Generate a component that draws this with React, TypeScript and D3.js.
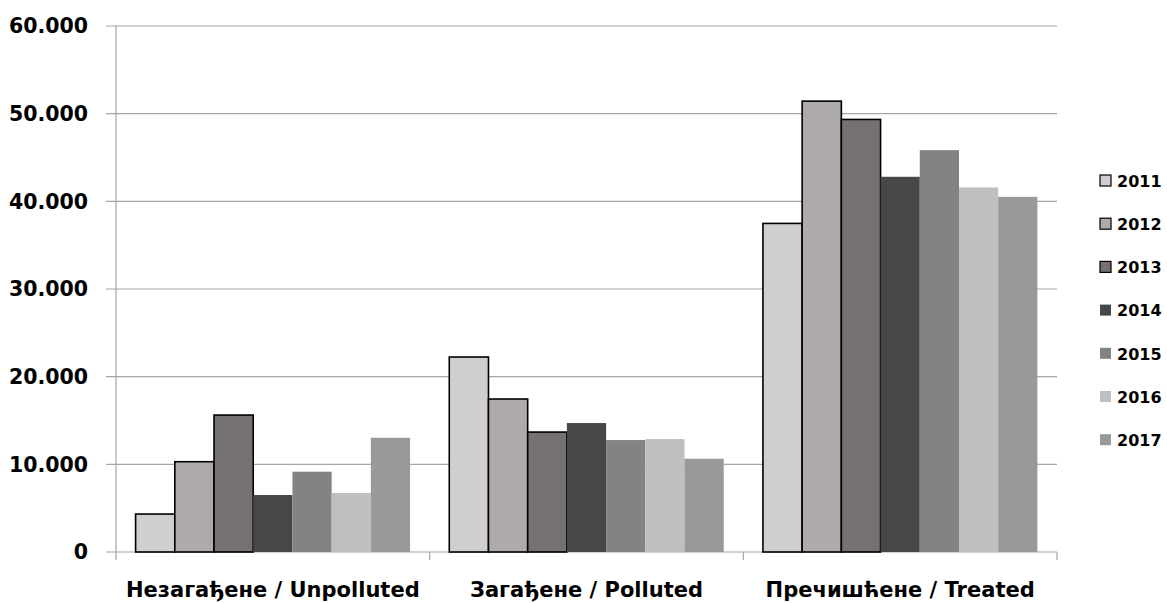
import React from "react";
import * as d3 from "d3";

const categories = ["Незагађене / Unpolluted", "Загађене / Polluted", "Пречишћене / Treated"];
const years = ["2011", "2012", "2013", "2014", "2015", "2016", "2017"];
const values2011 = [4330, 22240, 37480];
const values2012 = [10300, 17450, 51430];
const values2013 = [15620, 13680, 49340];
const values2014 = [6500, 14710, 42800];
const values2015 = [9160, 12770, 45840];
const values2016 = [6730, 12880, 41580];
const values2017 = [13030, 10640, 40510];
const yTicks = [0, 10000, 20000, 30000, 40000, 50000, 60000];

const seriesValues = [values2011, values2012, values2013, values2014, values2015, values2016, values2017];
const colors = ["#d0cece", "#aeaaaa", "#767171", "#474747", "#838383", "#bfbfbf", "#999999"];
const outlined = [true, true, true, false, false, false, false];

const locale = d3.formatLocale({ decimal: ",", thousands: ".", grouping: [3], currency: ["", ""] });
const fmt = locale.format(",");

const W = 1167;
const H = 603;
const left = 116;
const right = 1057;
const top = 26;
const bottom = 552;
const font = "'DejaVu Sans', sans-serif";

export default function App() {
  const x = d3.scaleBand<string>().domain(categories).range([left, right]).padding(0);
  const xi = d3.scaleBand<string>().domain(years).range([0, x.bandwidth()]).paddingInner(0).paddingOuter(0.5);
  const y = d3.scaleLinear().domain([0, 60000]).range([bottom, top]);

  return (
    <svg width={W} height={H} style={{ position: "absolute", left: 0, top: 0, background: "#fff" }}>
      {yTicks.map((t) => (
        <g key={t}>
          <line x1={106} x2={right} y1={y(t)} y2={y(t)} stroke="#a6a6a6" strokeWidth={1.2} />
          <text x={88} y={y(t)} dy="0.36em" textAnchor="end" fontFamily={font} fontWeight="bold" fontSize={20.5} fill="#000">
            {fmt(t)}
          </text>
        </g>
      ))}
      <line x1={left} x2={left} y1={top} y2={bottom} stroke="#a6a6a6" strokeWidth={1.2} />
      {[...categories.map((c) => x(c) as number), right].map((px, i) => (
        <line key={i} x1={px} x2={px} y1={bottom} y2={bottom + 8} stroke="#a6a6a6" strokeWidth={1.2} />
      ))}
      {years.map((yr, si) => (
        <g key={yr}>
          {categories.map((c, ci) => {
            const v = seriesValues[si][ci];
            const bx = (x(c) as number) + (xi(yr) as number);
            return (
              <rect
                key={c}
                x={bx}
                y={y(v)}
                width={xi.bandwidth()}
                height={y(0) - y(v)}
                fill={colors[si]}
                stroke={outlined[si] ? "#000" : "none"}
                strokeWidth={outlined[si] ? 1.6 : 0}
              />
            );
          })}
        </g>
      ))}
      {categories.map((c) => (
        <text key={c} x={(x(c) as number) + x.bandwidth() / 2} y={597} textAnchor="middle" fontFamily={font} fontWeight="bold" fontSize={21} fill="#000">
          {c}
        </text>
      ))}
      {years.map((yr, i) => {
        const ly = 181 + i * 43.2;
        return (
          <g key={yr}>
            <rect x={1100} y={ly - 6} width={11} height={11} fill={colors[i]} stroke={outlined[i] ? "#000" : "none"} strokeWidth={outlined[i] ? 1.2 : 0} />
            <text x={1117} y={ly} dy="0.36em" fontFamily={font} fontWeight="bold" fontSize={16} fill="#000">
              {yr}
            </text>
          </g>
        );
      })}
    </svg>
  );
}
